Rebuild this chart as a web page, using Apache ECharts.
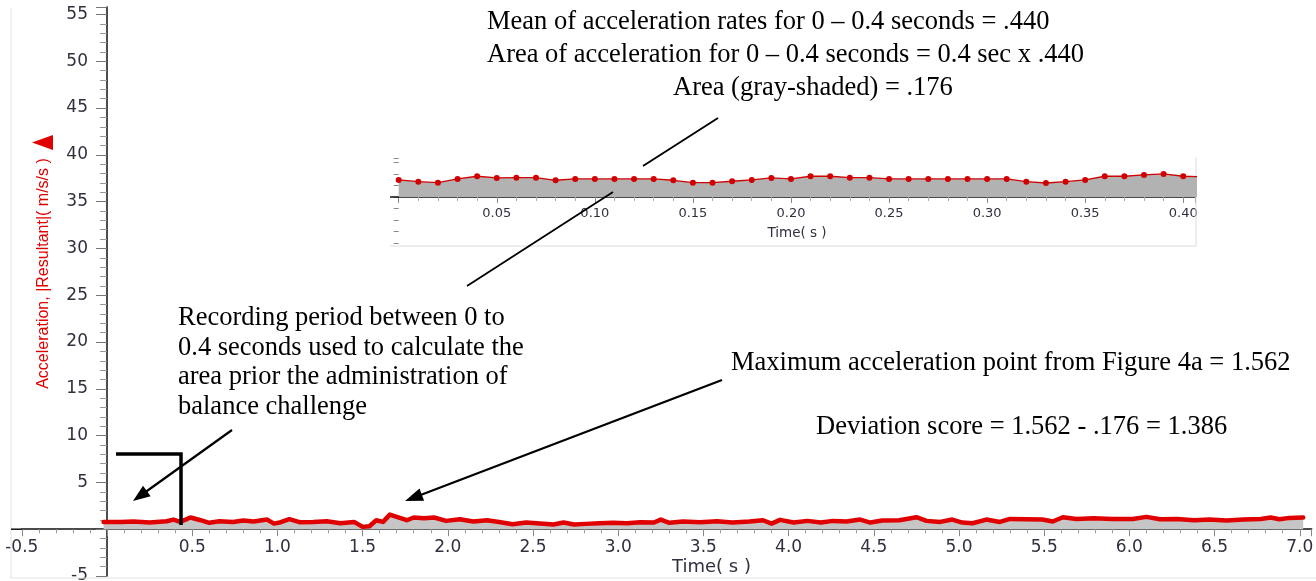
<!DOCTYPE html>
<html>
<head>
<meta charset="utf-8">
<script src="https://cdn.jsdelivr.net/npm/echarts@6/dist/echarts.min.js"></script>
<style>
html,body{margin:0;padding:0;background:#fff;}
#c{width:1316px;height:581px;}
</style>
</head>
<body>
<div id="c"></div>
<script>
// ---------- data ----------
const mainTimes = [-0.02,0.08,0.155,0.25,0.35,0.39,0.43,0.49,0.55,0.60,
  0.66,0.74,0.80,0.86,0.94,0.98,1.02,1.07,1.13,1.21,
  1.29,1.37,1.45,1.50,1.54,1.58,1.62,1.66,1.70,1.76,
  1.80,1.86,1.92,1.99,2.07,2.15,2.23,2.31,
  2.38,2.46,2.54,2.62,2.68,2.74,2.81,2.89,2.97,3.05,
  3.13,3.21,3.25,3.30,3.38,3.48,3.58,3.67,3.77,3.85,
  3.90,3.95,4.03,4.11,4.19,4.26,4.34,4.42,4.48,4.55,4.65,
  4.75,4.81,4.89,4.96,5.02,5.08,5.16,5.24,5.30,5.39,
  5.49,5.55,5.61,5.69,5.79,5.90,6.02,6.10,6.18,6.28,
  6.38,6.47,6.57,6.67,6.77,6.83,6.88,6.94,7.02];
const mainValues = [0.78,0.78,0.82,0.71,0.85,1.03,0.78,1.25,0.96,0.68,
  0.85,0.78,0.93,0.82,1.03,0.60,0.75,1.07,0.75,0.78,
  0.85,0.64,0.78,0.25,0.32,0.96,0.78,1.56,1.32,0.96,
  1.25,1.18,1.25,0.89,1.07,0.82,0.96,0.75,
  0.53,0.71,0.60,0.50,0.71,0.50,0.57,0.64,0.68,0.64,
  0.75,0.71,1.03,0.68,0.82,0.75,0.85,0.71,0.82,0.96,
  0.60,1.00,0.71,0.89,0.71,0.89,0.82,1.03,0.71,0.93,0.96,
  1.28,0.89,0.78,1.03,0.71,0.64,1.03,0.78,1.10,1.07,
  1.03,0.82,1.28,1.10,1.17,1.10,1.10,1.32,1.07,1.10,
  0.96,1.03,0.93,1.03,1.10,1.25,1.07,1.21,1.25];

const insetTimes = [0.00,0.01,0.02,0.03,0.04,0.05,0.06,0.07,0.08,0.09,
  0.10,0.11,0.12,0.13,0.14,0.15,0.16,0.17,0.18,0.19,
  0.20,0.21,0.22,0.23,0.24,0.25,0.26,0.27,0.28,0.29,
  0.30,0.31,0.32,0.33,0.34,0.35,0.36,0.37,0.38,0.39,
  0.40,0.41];
const insetValues = [0.415,0.373,0.349,0.439,0.505,0.463,0.471,0.471,0.407,0.439,
  0.439,0.439,0.439,0.439,0.407,0.349,0.349,0.383,0.415,0.463,
  0.439,0.505,0.505,0.471,0.471,0.439,0.439,0.439,0.439,0.439,
  0.439,0.439,0.373,0.341,0.373,0.415,0.505,0.505,0.537,0.561,
  0.505,0.490];

const mainXAxis = {min: -0.5, max: 7.07, step: 0.5};
const mainYAxis = {min: -5, max: 55.8, step: 5};
const insetXAxis = {min: 0, max: 0.406, step: 0.05};
const insetYAxis = {min: -1.12, max: 0.95, step: 0.28};

const yAxisTitle = 'Acceleration, |Resultant|( m/s/s )';
const xAxisTitle = 'Time( s )';
const noteTop = ['Mean of acceleration rates for 0 \u2013 0.4 seconds = .440',
  'Area of acceleration for 0 \u2013 0.4 seconds = 0.4 sec x .440',
  'Area (gray-shaded) = .176'];
const noteLeft = ['Recording period between 0 to',
  '0.4 seconds used to calculate the',
  'area prior the administration of',
  'balance challenge'];
const noteMax = 'Maximum acceleration point from Figure 4a = 1.562';
const noteDev = 'Deviation score = 1.562 - .176 = 1.386';

// ---------- layout ----------
const mainGrid = {left: 21.8, width: 1289.9, top: 7, height: 569};
const insetGrid = {left: 398.7, width: 796.3, top: 158, height: 84.9};
// distance from grid edge to the zero line (axes cross at zero)
const mainXOffset = -mainGrid.height * (0 - mainYAxis.min) / (mainYAxis.max - mainYAxis.min);
const mainYOffset = -mainGrid.width * (0 - mainXAxis.min) / (mainXAxis.max - mainXAxis.min);
const insetXOffset = -insetGrid.height * (0 - insetYAxis.min) / (insetYAxis.max - insetYAxis.min);

// ---------- chart ----------
const labelColor = '#30303e';
const serif = '"Liberation Serif", "Times New Roman", serif';
const chart = echarts.init(document.getElementById('c'), null, {renderer: 'canvas'});

function arrow(x1, y1, x2, y2, w, L, H) {
  const dx = x2 - x1, dy = y2 - y1, len = Math.hypot(dx, dy);
  const ux = dx / len, uy = dy / len;
  const bx = x2 - ux * L, by = y2 - uy * L;
  return [
    {type: 'line', z: 100, shape: {x1: x1, y1: y1, x2: bx + ux * 2, y2: by + uy * 2},
     style: {stroke: '#000', lineWidth: w}},
    {type: 'polygon', z: 100, shape: {points: [[x2, y2], [bx - uy * H, by + ux * H], [bx + uy * H, by - ux * H]]},
     style: {fill: '#000'}}
  ];
}
function txt(s, x, y, size) {
  return {type: 'text', z: 100, x: x, y: y,
    style: {text: s, fill: '#000', font: size + 'px ' + serif,
            textAlign: 'left', align: 'left', textVerticalAlign: 'middle', verticalAlign: 'middle'}};
}

const graphics = [
  {type: 'line', z: 1, shape: {x1: 11, y1: 8, x2: 11, y2: 578}, style: {stroke: '#e2e2e2', lineWidth: 1}},
  {type: 'line', z: 1, shape: {x1: 11, y1: 578, x2: 1316, y2: 578}, style: {stroke: '#e2e2e2', lineWidth: 1}},
  {type: 'line', z: 1, shape: {x1: 1196, y1: 157, x2: 1196, y2: 246}, style: {stroke: '#dcdcdc', lineWidth: 1}},
  {type: 'line', z: 1, shape: {x1: 390, y1: 246, x2: 1196, y2: 246}, style: {stroke: '#dcdcdc', lineWidth: 1}},
  {type: 'line', z: 1, shape: {x1: 11, y1: 529.2, x2: 22, y2: 529.2}, style: {stroke: '#111', lineWidth: 1.5}},
  {type: 'line', z: 1, shape: {x1: 390, y1: 197, x2: 399, y2: 197}, style: {stroke: '#111', lineWidth: 1.5}},
  {type: 'text', z: 100, x: 44, y: 273.5, rotation: Math.PI / 2,
   style: {text: yAxisTitle, fill: '#e00000', font: '16px "Liberation Sans", Arial, sans-serif',
           textAlign: 'center', align: 'center', textVerticalAlign: 'middle', verticalAlign: 'middle'}},
  {type: 'polygon', z: 100, shape: {points: [[32, 142.5], [53, 135], [53, 150]]}, style: {fill: '#e00000'}},
  {type: 'text', z: 100, x: 711.5, y: 567,
   style: {text: xAxisTitle, fill: labelColor, font: '18px "DejaVu Sans", sans-serif',
           textAlign: 'center', align: 'center', textVerticalAlign: 'middle', verticalAlign: 'middle'}},
  {type: 'text', z: 100, x: 797, y: 233,
   style: {text: xAxisTitle, fill: labelColor, font: '13.5px "DejaVu Sans", sans-serif',
           textAlign: 'center', align: 'center', textVerticalAlign: 'middle', verticalAlign: 'middle'}},
  txt(noteTop[0], 487, 22, 26.5),
  txt(noteTop[1], 487, 55, 26.5),
  txt(noteTop[2], 673, 88, 26.5),
  txt(noteLeft[0], 178, 318, 26.5),
  txt(noteLeft[1], 178, 348, 26.5),
  txt(noteLeft[2], 178, 377.5, 26.5),
  txt(noteLeft[3], 178, 407, 26.5),
  txt(noteMax, 731, 363, 26.5),
  txt(noteDev, 816, 427, 26.5),
  {type: 'line', z: 100, shape: {x1: 718, y1: 118, x2: 643, y2: 166}, style: {stroke: '#000', lineWidth: 1.8}},
  {type: 'line', z: 100, shape: {x1: 467, y1: 286, x2: 613, y2: 192}, style: {stroke: '#000', lineWidth: 1.8}},
  {type: 'polyline', z: 100, shape: {points: [[116, 454], [181, 454], [181, 525]]},
   style: {stroke: '#000', lineWidth: 3.5, fill: null}}
].concat(arrow(232, 430, 133, 501, 2.2, 17, 6.5))
 .concat(arrow(722, 380, 405, 501, 2.2, 18, 6.5));

const option = {
  animation: false,
  backgroundColor: '#ffffff',
  grid: [
    Object.assign({containLabel: false, outerBoundsMode: 'none'}, mainGrid),
    Object.assign({containLabel: false, outerBoundsMode: 'none'}, insetGrid)
  ],
  xAxis: [
    {gridIndex: 0, type: 'value', position: 'bottom', offset: mainXOffset,
     min: mainXAxis.min, max: mainXAxis.max, interval: mainXAxis.step,
     axisLine: {onZero: false, lineStyle: {color: '#111', width: 1.5}},
     axisTick: {show: true, length: 7, lineStyle: {color: '#888', width: 1}},
     minorTick: {show: true, splitNumber: 5, length: 4, lineStyle: {color: '#999', width: 1}},
     splitLine: {show: false}, minorSplitLine: {show: false},
     axisLabel: {margin: 10, color: labelColor, fontSize: 17, fontFamily: '"DejaVu Sans", sans-serif',
       showMaxLabel: false, hideOverlap: false,
       formatter: function (v) { return Math.abs(v) < 1e-9 ? '' : v.toFixed(1); }}},
    {gridIndex: 1, type: 'value', position: 'bottom', offset: insetXOffset,
     min: insetXAxis.min, max: insetXAxis.max, interval: insetXAxis.step,
     axisLine: {onZero: false, lineStyle: {color: '#111', width: 1.5}},
     axisTick: {show: true, length: 6, lineStyle: {color: '#888', width: 1}},
     minorTick: {show: true, splitNumber: 5, length: 4, lineStyle: {color: '#aaa', width: 1}},
     splitLine: {show: false},
     axisLabel: {margin: 10, color: labelColor, fontSize: 13, fontFamily: '"DejaVu Sans", sans-serif',
       showMaxLabel: false, showMinLabel: false, hideOverlap: false,
       formatter: function (v) { return v.toFixed(2); }}}
  ],
  yAxis: [
    {gridIndex: 0, type: 'value', position: 'left', offset: mainYOffset,
     min: mainYAxis.min, max: mainYAxis.max, interval: mainYAxis.step,
     axisLine: {onZero: false, lineStyle: {color: '#111', width: 1.5}},
     axisTick: {show: true, length: 11, lineStyle: {color: '#777', width: 1}},
     minorTick: {show: true, splitNumber: 5, length: 7, lineStyle: {color: '#999', width: 1}},
     splitLine: {show: false}, minorSplitLine: {show: false},
     axisLabel: {margin: 19, color: labelColor, fontSize: 17, fontFamily: '"DejaVu Sans", sans-serif',
       showMaxLabel: false, hideOverlap: false,
       formatter: function (v) { return Math.abs(v) < 1e-9 ? '' : String(v); }}},
    {gridIndex: 1, type: 'value', position: 'left',
     min: insetYAxis.min, max: insetYAxis.max, interval: insetYAxis.step,
     axisLine: {show: false, onZero: false},
     axisTick: {show: true, length: 5, lineStyle: {color: '#888', width: 1}},
     splitLine: {show: false},
     axisLabel: {show: false}}
  ],
  series: [
    {type: 'line', xAxisIndex: 0, yAxisIndex: 0, z: 3,
     data: mainTimes.map(function (t, i) { return [t, mainValues[i]]; }),
     showSymbol: false, symbol: 'none', smooth: false,
     lineStyle: {color: '#e00000', width: 4.5, cap: 'round', join: 'round'},
     areaStyle: {color: '#c6c6c6', opacity: 1, origin: 0}},
    {type: 'line', xAxisIndex: 1, yAxisIndex: 1, z: 3, clip: true,
     data: insetTimes.map(function (t, i) { return [t, insetValues[i]]; }),
     symbol: 'circle', symbolSize: 6, showSymbol: true,
     itemStyle: {color: '#d00000'},
     lineStyle: {color: '#d00000', width: 1.3},
     areaStyle: {color: '#b2b2b2', opacity: 1, origin: 0}}
  ],
  graphic: graphics
};
chart.setOption(option);
</script>
</body>
</html>
